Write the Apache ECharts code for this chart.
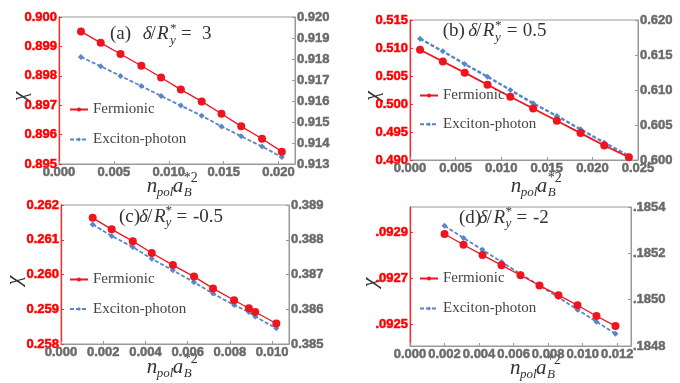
<!DOCTYPE html>
<html>
<head>
<meta charset="utf-8">
<script src="https://cdn.jsdelivr.net/npm/echarts@6/dist/echarts.min.js"></script>
<style>
  html, body { margin: 0; padding: 0; background: #fff; }
  #chart { width: 680px; height: 383px; }
</style>
</head>
<body>
<div id="chart"></div>
<script>
// panel (a)  delta/Ry = 3
const xA = [0.0020, 0.0038, 0.0056, 0.0075, 0.0093, 0.0111, 0.0130, 0.0148, 0.0166, 0.0185, 0.0203];
const fermA = [0.89951, 0.89912, 0.89874, 0.89834, 0.89794, 0.89753, 0.89713, 0.89671, 0.89628, 0.89586, 0.89542];
const excA = [0.91810, 0.91765, 0.91719, 0.91671, 0.91624, 0.91578, 0.91530, 0.91479, 0.91432, 0.91383, 0.91333];
// panel (b)  delta/Ry = 0.5
const xB = [0.0011, 0.0036, 0.0060, 0.0085, 0.0110, 0.0135, 0.0161, 0.0187, 0.0213, 0.0240];
const fermB = [0.5097, 0.5076, 0.5056, 0.50345, 0.5013, 0.4992, 0.4970, 0.4948, 0.4926, 0.4905];
const excB = [0.61733, 0.61552, 0.61371, 0.61190, 0.6100, 0.6081, 0.60629, 0.60438, 0.60248, 0.60057];
// panel (c)  delta/Ry = -0.5
const xC = [0.0015, 0.0024, 0.0034, 0.0043, 0.0053, 0.0063, 0.0072, 0.0082, 0.0089, 0.0092, 0.0102];
const fermC = [0.26163, 0.26130, 0.26096, 0.26062, 0.26027, 0.25994, 0.25960, 0.25926, 0.25903, 0.25892, 0.25859];
const excC = [0.38844, 0.38811, 0.38779, 0.38745, 0.38712, 0.38678, 0.38645, 0.38612, 0.38592, 0.38579, 0.38545];
// panel (d)  delta/Ry = -2
const xD = [0.0020, 0.0031, 0.0042, 0.0053, 0.0064, 0.0075, 0.0086, 0.0097, 0.0108, 0.0119];
const fermD = [0.092893, 0.092846, 0.092801, 0.092757, 0.092713, 0.092668, 0.092626, 0.092582, 0.092535, 0.092491];
const excD = [0.185319, 0.185266, 0.185215, 0.185163, 0.185111, 0.185061, 0.185010, 0.184957, 0.184905, 0.184853];

// tick labels
const xTicksA = [0, 0.005, 0.010, 0.015, 0.020];
const xTicksB = [0, 0.005, 0.010, 0.015, 0.020, 0.025];
const xTicksC = [0, 0.002, 0.004, 0.006, 0.008, 0.010];
const xTicksD = [0, 0.002, 0.004, 0.006, 0.008, 0.010, 0.012];
const leftTicksA = [0.895, 0.896, 0.897, 0.898, 0.899, 0.900];
const rightTicksA = [0.913, 0.914, 0.915, 0.916, 0.917, 0.918, 0.919, 0.920];
const leftTicksB = [0.490, 0.495, 0.500, 0.505, 0.510, 0.515];
const rightTicksB = [0.600, 0.605, 0.610, 0.615, 0.620];
const leftTicksC = [0.258, 0.259, 0.260, 0.261, 0.262];
const rightTicksC = [0.385, 0.386, 0.387, 0.388, 0.389];
const leftTicksD = [0.0925, 0.0927, 0.0929];
const rightTicksD = [0.1848, 0.1850, 0.1852, 0.1854];

const panelTitles = ['(a)', '(b)', '(c)', '(d)'];
const panelValues = ['3', '0.5', '-0.5', '-2'];
const seriesNames = ['Fermionic', 'Exciton-photon'];

const RED = '#f0141e';
const BLUE = '#5a86c5';
const GRAY = '#999';
const LABEL_FONT = '"Liberation Sans Narrow", "Liberation Sans", Arial, sans-serif';
const SERIF = '"Liberation Serif", "DejaVu Serif", serif';

const chart = echarts.init(document.getElementById('chart'));

const panels = [
    { x: xA, f: fermA, e: excA, xMax: 0.0215, xt: xTicksA, l: [0.895, 0.900], lt: leftTicksA, r: [0.913, 0.920], rt: rightTicksA, ld: 3, rd: 3,
      grid: { left: 59, right: 385, top: 17, height: 147 }, nameGap: 28 },
    { x: xB, f: fermB, e: excB, xMax: 0.025, xt: xTicksB, l: [0.490, 0.515], lt: leftTicksB, r: [0.600, 0.620], rt: rightTicksB, ld: 3, rd: 3,
      grid: { left: 410, right: 42, top: 20, height: 140 }, nameGap: 27 },
    { x: xC, f: fermC, e: excC, xMax: 0.0108, xt: xTicksC, l: [0.258, 0.262], lt: leftTicksC, r: [0.385, 0.389], rt: rightTicksC, ld: 3, rd: 3,
      grid: { left: 61, right: 391, top: 205, height: 139 }, nameGap: 36 },
    { x: xD, f: fermD, e: excD, xMax: 0.0128, xt: xTicksD, l: [0.092404, 0.093011], lt: leftTicksD, r: [0.1848, 0.1854], rt: rightTicksD, ld: -4, rd: -4,
      grid: { left: 410, right: 49, top: 207, height: 139 }, nameGap: 29 }
];

function fmt(d) {
    // negative d: drop the leading zero (".0929")
    return function (v) {
        if (d < 0) return v.toFixed(-d).replace(/^0/, '');
        return v.toFixed(d);
    };
}

function tickLabel(values, d, color) {
    return {
        customValues: values, formatter: fmt(d), margin: 2, color: color,
        fontWeight: 'bold', fontSize: 13, fontFamily: LABEL_FONT,
        textBorderColor: color, textBorderWidth: 0.5
    };
}

const grid = [], xAxis = [], yAxis = [], series = [];
panels.forEach(function (p, i) {
    grid.push(Object.assign({ show: true, borderColor: GRAY, borderWidth: 1, backgroundColor: 'transparent' }, p.grid));
    xAxis.push({
        type: 'value', gridIndex: i, min: 0, max: p.xMax,
        axisLine: { show: true, lineStyle: { color: GRAY } },
        axisTick: { show: true, inside: true, length: 3, lineStyle: { color: GRAY }, customValues: p.xt },
        axisLabel: tickLabel(p.xt, 3, '#6a6a6a'),
        splitLine: { show: false }
    });
    yAxis.push({
        type: 'value', gridIndex: i, position: 'left', min: p.l[0], max: p.l[1],
        name: 'χ', nameLocation: 'middle', nameGap: p.nameGap, nameRotate: 90, nameMoveOverlap: false,
        nameTextStyle: { fontFamily: SERIF, fontStyle: 'italic', fontSize: 22, color: '#333', padding: [0, 12, 0, 0] },
        axisLine: { show: true, lineStyle: { color: '#ff2a2a', width: 1.3 } },
        axisTick: { show: true, inside: true, length: 3, lineStyle: { color: '#ff2a2a' }, customValues: p.lt },
        axisLabel: tickLabel(p.lt, p.ld, '#ff0000'),
        splitLine: { show: false }
    });
    yAxis.push({
        type: 'value', gridIndex: i, position: 'right', min: p.r[0], max: p.r[1],
        axisLine: { show: true, lineStyle: { color: GRAY } },
        axisTick: { show: true, inside: true, length: 3, lineStyle: { color: GRAY }, customValues: p.rt },
        axisLabel: tickLabel(p.rt, p.rd, '#6a6a6a'),
        splitLine: { show: false }
    });
    series.push({
        type: 'line', name: seriesNames[1], xAxisIndex: i, yAxisIndex: 2 * i + 1,
        data: p.x.map(function (v, k) { return [v, p.e[k]]; }),
        color: BLUE, symbol: 'diamond', symbolSize: 6,
        lineStyle: { type: [4, 2], width: i === 1 ? 2.4 : 1.8 }
    });
    series.push({
        type: 'line', name: seriesNames[0], xAxisIndex: i, yAxisIndex: 2 * i,
        data: p.x.map(function (v, k) { return [v, p.f[k]]; }),
        color: RED, symbol: 'circle', symbolSize: 8,
        lineStyle: { width: i === 1 ? 1.8 : 1.3 }
    });
});

// legends inside each panel
const legendPos = [[69, 102], [419, 88], [69, 272], [419, 271]];
const legendGap = [15, 13.7, 14.4, 15];
const legend = legendPos.map(function (pos, i) {
    return {
        data: seriesNames, orient: 'vertical', left: pos[0], top: pos[1], itemGap: legendGap[i],
        padding: 0, itemWidth: 18, itemHeight: 5, selectedMode: false,
        textStyle: { fontFamily: SERIF, fontSize: 15, color: '#444' }
    };
});

// math-style text helpers
function txt(str, x, baseline, size, italic) {
    return {
        type: 'text', x: x, y: baseline - 0.33 * size, silent: true,
        style: { text: str, fontFamily: SERIF, fontSize: size, fontStyle: italic ? 'italic' : 'normal', fill: '#333', verticalAlign: 'middle' }
    };
}
function panelTitle(i, x0, base, o) {
    return [
        txt(panelTitles[i], x0, base, 19),
        txt('δ', x0 + o[0], base, 19, true),
        txt('/', x0 + o[1], base, 19),
        txt('R', x0 + o[2], base, 19, true),
        txt('*', x0 + o[3], base - 8, 13),
        txt('y', x0 + o[3], base + 4, 13, true),
        txt('=', x0 + o[4], base, 19),
        txt(panelValues[i], x0 + o[5], base, 19)
    ];
}
function xName(x0, base) {
    return [
        txt('n', x0, base, 21, true),
        txt('pol', x0 + 10, base + 4, 13, true),
        txt('a', x0 + 26, base, 21, true),
        txt('*2', x0 + 37, base - 10, 14),
        txt('B', x0 + 37, base + 4, 13, true)
    ];
}

const graphic = [].concat(
    panelTitle(0, 110, 40.5, [32.7, 40.5, 47, 60, 71, 92]),
    panelTitle(1, 442.7, 37.5, [25.6, 33.3, 40, 52.3, 64, 80]),
    panelTitle(2, 119, 223.3, [20, 28, 35, 46.5, 57.5, 74]),
    panelTitle(3, 459, 224.3, [19.5, 27.5, 34.5, 46.5, 57.5, 74]),
    xName(146.7, 193),
    xName(510.7, 193),
    xName(146.7, 374),
    xName(510, 375)
);

chart.setOption({
    animation: false,
    backgroundColor: '#fff',
    grid: grid,
    xAxis: xAxis,
    yAxis: yAxis,
    legend: legend,
    series: series,
    graphic: graphic
});
window.addEventListener('resize', function () { chart.resize(); });
</script>
</body>
</html>
